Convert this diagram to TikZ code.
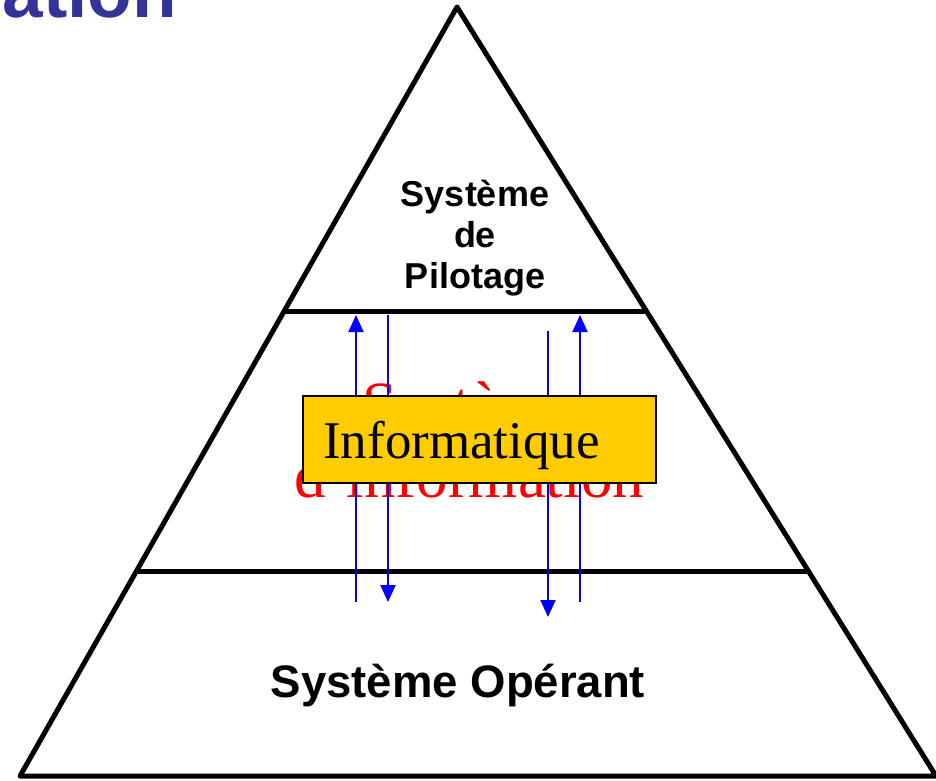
\documentclass[tikz,border=0pt]{standalone}
\usepackage{fontspec}
\setmainfont{Liberation Serif}
\newfontfamily\arialfont{Liberation Sans}
\usetikzlibrary{arrows.meta,calc}
\definecolor{titleblue}{RGB}{51,51,153}
\definecolor{boxyellow}{RGB}{255,204,0}
\begin{document}
\begin{tikzpicture}[x=1pt,y=-1pt,
  pyr/.style={line width=5pt,line join=round,draw=black},
  flow/.style={line width=2pt,draw=blue,-{Triangle[length=17pt,width=15pt]}},
  infobox/.style={draw=black,line width=2pt,fill=boxyellow,minimum width=353pt,minimum height=87pt,inner sep=0pt},
  sanslabel/.style={font=\arialfont\bfseries\fontsize{36}{41}\selectfont,align=center,inner sep=0pt},
  redlabel/.style={font=\fontsize{63}{72}\selectfont,text=red,align=center,inner sep=0pt}]
\useasboundingbox (0,0) rectangle (936,780);
\clip (0,0) rectangle (936,780);
% title fragment
\node[anchor=base east,inner sep=0pt,text=titleblue,font=\arialfont\bfseries\fontsize{73}{80}\selectfont] (title) at (177,17) {ation};
% pyramid
\coordinate (apex) at (457,7);
\coordinate (bl) at (20,776);
\coordinate (br) at (936,776);
\draw[pyr] (apex) -- (bl) -- (br) -- cycle;
\coordinate (ul) at ($(apex)!0.3966!(bl)$);
\coordinate (ur) at ($(apex)!0.3966!(br)$);
\coordinate (ll) at ($(apex)!0.7347!(bl)$);
\coordinate (lr) at ($(apex)!0.7347!(br)$);
\draw[pyr] (ul) -- (ur);
\draw[pyr] (ll) -- (lr);
% labels
\node[sanslabel] (pilot) at (475,238) {Système\\de\\Pilotage};
\node[sanslabel,anchor=base,font=\arialfont\bfseries\fontsize{45.5}{50}\selectfont] (oper) at (458,697) {Système Opérant};
\node[redlabel] (si) at (469,440) {Système\\d'information};
% flows
\coordinate (a1s) at (356,602); \coordinate (a1e) at (356,315);
\coordinate (a2s) at (388,315); \coordinate (a2e) at (388,602);
\coordinate (a3s) at (548,331); \coordinate (a3e) at (548,617);
\coordinate (a4s) at (580,602); \coordinate (a4e) at (580,315);
\draw[flow] (a1s) -- (a1e);
\draw[flow] (a2s) -- (a2e);
\draw[flow] (a3s) -- (a3e);
\draw[flow] (a4s) -- (a4e);
% box
\node[infobox,anchor=north west] (box) at (302,395) {};
\node[anchor=base west,inner sep=0pt,font=\fontsize{53}{60}\selectfont] (infotext) at (323,458) {Informatique};
\end{tikzpicture}
\end{document}
